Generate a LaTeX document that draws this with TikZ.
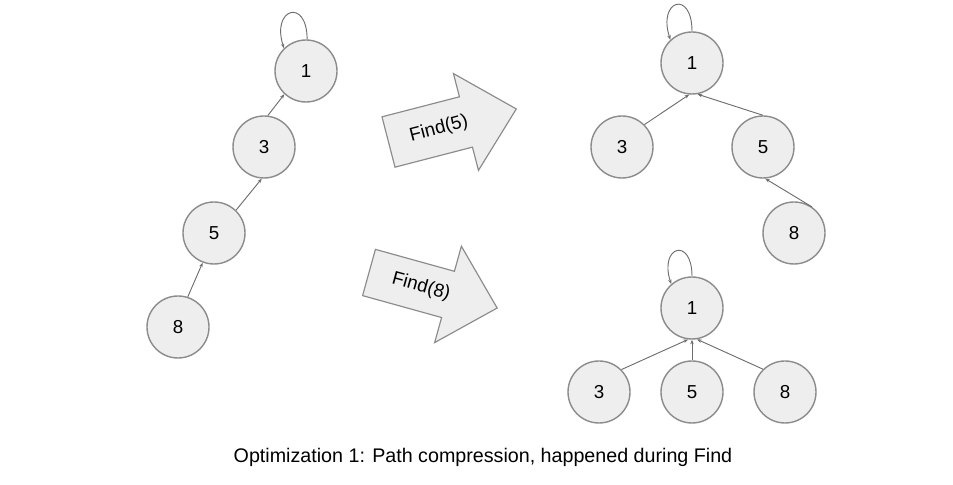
\documentclass[tikz,border=0pt]{standalone}
\usepackage{fontspec}
\setmainfont{Liberation Sans}
\usetikzlibrary{arrows.meta}

\definecolor{nodefill}{HTML}{EEEEEE}
\definecolor{nodeline}{HTML}{8C8C8C}
\definecolor{edgeline}{HTML}{6E6E6E}

\begin{document}
\begin{tikzpicture}[x=0.03cm,y=0.03cm]

\tikzset{elem/.style={circle,draw=nodeline,fill=nodefill,line width=1.2pt,minimum size=1.86cm,inner sep=0pt,font=\fontsize{16}{18}\selectfont},
         edge/.style={edgeline,line width=0.8pt,-{Stealth[length=4pt,width=3pt]}},
         bigarrow/.style={draw=nodeline,fill=nodefill,line width=1pt,line join=miter},
         lbl/.style={font=\fontsize{16}{19}\selectfont}}

\useasboundingbox (0,0) rectangle (953,485);

% before
\node[elem] (l1) at (306,414) {1};
\node[elem] (l3) at (264,338) {3};
\node[elem] (l5) at (214,252) {5};
\node[elem] (l8) at (178,158) {8};

\draw[edge] (l8.72) -- (l5.249);
\draw[edge] (l5.46) -- (l3.266);
\draw[edge] (l3.83) -- (l1.227);
\draw[edge] (l1.88) .. controls +(90:42) and +(108:42) .. (l1.134);

% after Find(5)
\node[elem] (a1) at (692,422) {1};
\node[elem] (a3) at (622,338) {3};
\node[elem] (a5) at (763,338) {5};
\node[elem] (a8) at (794,252) {8};

\draw[edge] (a3.45) -- (a1.265);
\draw[edge] (a5.90) -- (a1.280);
\draw[edge] (a8.55) -- (a5.274);
\draw[edge] (a1.90) .. controls +(90:42) and +(108:42) .. (a1.133);

% after Find(8)
\node[elem] (b1) at (692,177) {1};
\node[elem] (b3) at (599,93) {3};
\node[elem] (b5) at (692,93) {5};
\node[elem] (b8) at (785,93) {8};

\draw[edge] (b3.45) -- (b1.263);
\draw[edge] (b5.north) -- (b1.south);
\draw[edge] (b8.134) -- (b1.279);
\draw[edge] (b1.90) .. controls +(90:40) and +(108:40) .. (b1.131);

% operations
\begin{scope}[shift={(388.5,343)},rotate=14.5]
    \draw[bigarrow] (0,-26)--(80,-26)--(80,-50)--(132,0)--(80,50)--(80,26)--(0,26)--cycle;
    \node[lbl,rotate=14.5] (find5) at (52,0) {Find(5)};
\end{scope}

\begin{scope}[shift={(369,212.5)},rotate=-15.5]
    \draw[bigarrow] (0,-24)--(82,-24)--(82,-50)--(133,0)--(82,50)--(82,24)--(0,24)--cycle;
    \node[lbl,rotate=-15.5] (find8) at (54,0) {Find(8)};
\end{scope}

\node[font=\fontsize{16.8}{20}\selectfont] (caption) at (483,28) {Optimization 1: Path compression, happened during Find};

\end{tikzpicture}
\end{document}
